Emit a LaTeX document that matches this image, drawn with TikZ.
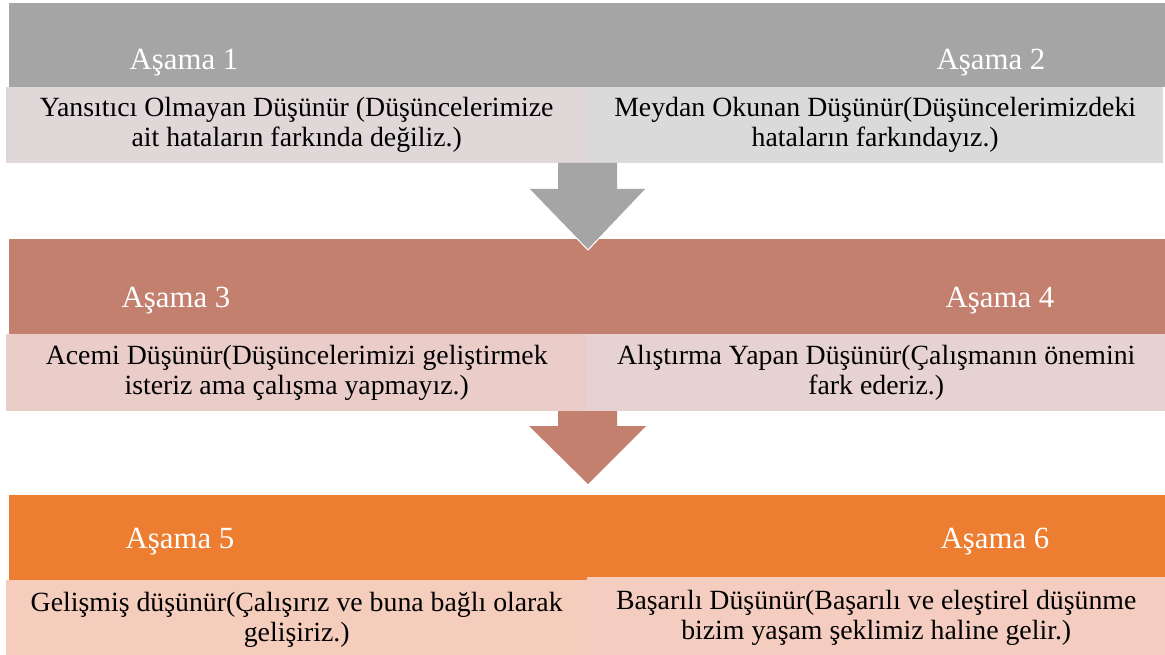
\documentclass[tikz,border=0pt]{standalone}
\usepackage{fontspec}
\setmainfont{Liberation Serif}

\definecolor{bandgray}{HTML}{A5A5A5}
\definecolor{bandrose}{HTML}{C4806F}
\definecolor{bandorange}{HTML}{ED7D31}
\definecolor{boxgrayl}{HTML}{DFD7D8}
\definecolor{boxgrayr}{HTML}{DADADA}
\definecolor{boxrosel}{HTML}{EACDC9}
\definecolor{boxroser}{HTML}{E6D2D0}
\definecolor{boxorangel}{HTML}{F5CDBC}
\definecolor{boxoranger}{HTML}{F4CCC0}

\begin{document}
\begin{tikzpicture}[x=1pt,y=-1pt,
  band/.style={rectangle,inner sep=0pt,minimum width=1156pt,anchor=north west},
  stage/.style={text=white,anchor=base,font=\fontsize{30.8}{34}\selectfont},
  thinker/.style={rectangle,inner sep=0pt,anchor=north west,align=center,
    font=\fontsize{27.8}{30}\selectfont}]

  \useasboundingbox (0,0) rectangle (1165,655);

  % first row
  \node[band,fill=bandgray,minimum height=84pt] (band1) at (9,3) {};
  \node[stage] (asama1) at (184,70) {Aşama 1};
  \node[stage] (asama2) at (991,70) {Aşama 2};
  \node[thinker,fill=boxgrayl,minimum width=581pt,minimum height=76pt] (box1) at (6,87)
    {Yansıtıcı Olmayan Düşünür (Düşüncelerimize\\ait hataların farkında değiliz.)};
  \node[thinker,fill=boxgrayr,minimum width=576pt,minimum height=76pt] (box2) at (587,87)
    {Meydan Okunan Düşünür(Düşüncelerimizdeki\\hataların farkındayız.)};

  % second row
  \node[band,fill=bandrose,minimum height=95pt] (band2) at (9,239) {};
  \fill[bandgray] (558,163) -- (617,163) -- (617,189) -- (646,189)
    -- (588,250) -- (529,189) -- (558,189) -- cycle;
  \draw[white,line width=1pt] (646,189) -- (588,250) -- (529,189);
  \node[stage] (asama3) at (176,307) {Aşama 3};
  \node[stage] (asama4) at (1000,307) {Aşama 4};
  \node[thinker,fill=boxrosel,minimum width=581pt,minimum height=77pt] (box3) at (6,334)
    {Acemi Düşünür(Düşüncelerimizi geliştirmek\\isteriz ama çalışma yapmayız.)};
  \node[thinker,fill=boxroser,minimum width=578pt,minimum height=77pt] (box4) at (587,334)
    {Alıştırma Yapan Düşünür(Çalışmanın önemini\\fark ederiz.)};

  % third row
  \fill[bandrose] (558,411) -- (617,411) -- (617,426) -- (646,426)
    -- (588,484) -- (529,426) -- (558,426) -- cycle;
  \node[band,fill=bandorange,minimum height=85pt] (band3) at (9,495) {};
  \node[stage] (asama5) at (180,548) {Aşama 5};
  \node[stage] (asama6) at (995,548) {Aşama 6};
  \node[thinker,fill=boxorangel,minimum width=581pt,minimum height=80pt] (box5) at (6,580)
    {Gelişmiş düşünür(Çalışırız ve buna bağlı olarak\\gelişiriz.)};
  \node[thinker,fill=boxoranger,minimum width=578pt,minimum height=82pt] (box6) at (587,577)
    {Başarılı Düşünür(Başarılı ve eleştirel düşünme\\bizim yaşam şeklimiz haline gelir.)};

\end{tikzpicture}
\end{document}
